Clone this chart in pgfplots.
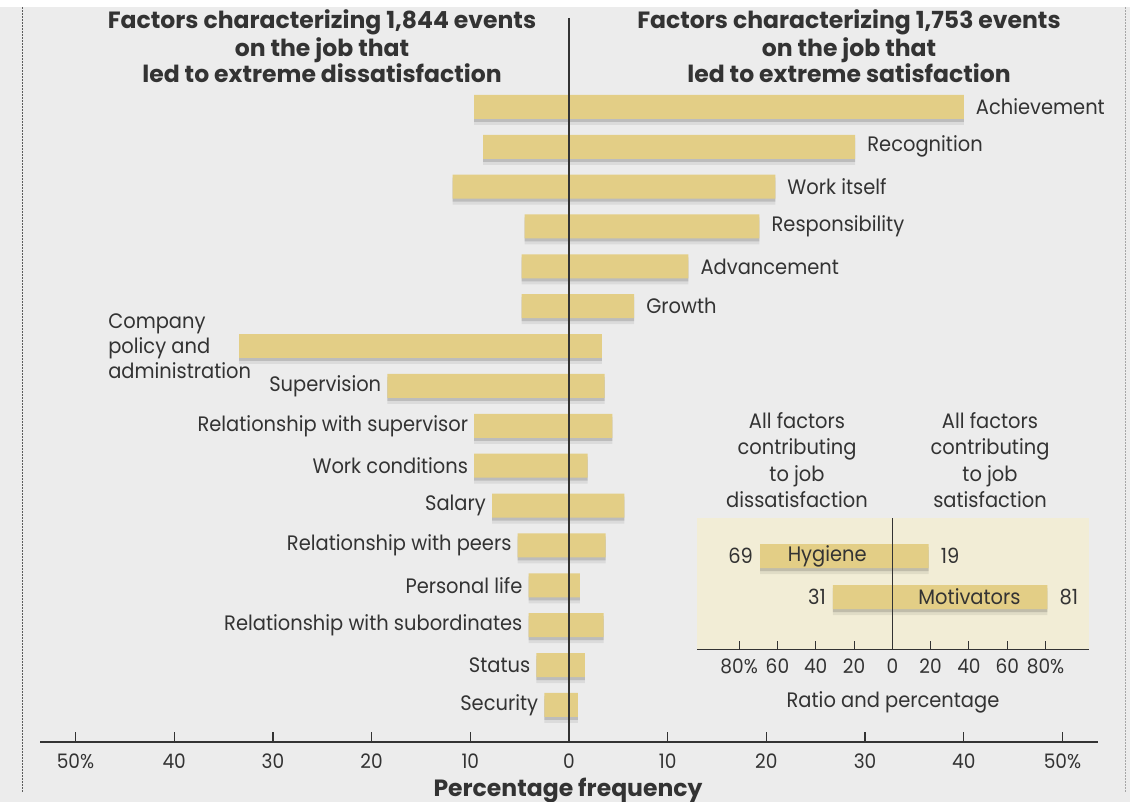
\documentclass[border=0pt]{standalone}
\usepackage{fontspec}
\setmainfont{Poppins}
\newfontfamily\labfont{Poppins}[FakeStretch=0.93]
\usepackage{pgfplots}
\pgfplotsset{compat=1.18}
\usepackage{pgfplotstable}
\definecolor{barc}{HTML}{E3CE86}
\definecolor{pagebg}{HTML}{ECECEC}
\definecolor{insetbg}{HTML}{F2EDD6}
\definecolor{txt}{HTML}{333333}
\newcommand\lab{\labfont\fontsize{21}{25}\selectfont}
\newcommand\tlab{\labfont\fontsize{20}{20}\selectfont}
\newcommand\ttl{\fontsize{23.6}{27}\selectfont\bfseries}

\pgfplotstableread[col sep=comma]{
y,left,right,name
0,-9.6,40.0,Achievement
1,-8.7,29.0,Recognition
2,-11.8,20.9,Work itself
3,-4.5,19.3,Responsibility
4,-4.8,12.1,Advancement
5,-4.8,6.6,Growth
}\motiv
\pgfplotstableread[col sep=comma]{
y,left,right,name
6,-33.4,3.3,Company
}\comp
\pgfplotstableread[col sep=comma]{
y,left,right,name
7,-18.4,3.6,Supervision
8,-9.6,4.4,Relationship with supervisor
9,-9.6,1.9,Work conditions
10,-7.8,5.6,Salary
11,-5.2,3.7,Relationship with peers
12,-4.1,1.1,Personal life
13,-4.1,3.5,Relationship with subordinates
14,-3.3,1.6,Status
15,-2.5,0.9,Security
}\hyg
\pgfplotstableread[col sep=comma]{
y,left,right,ll,rl
0,-69,19,69,19
1,-31,81,31,81
}\allf

\pgfplotsset{
  barsty/.style={fill=barc, draw=none},
  shsty/.style={fill=black, opacity=0.14, draw=none, bar shift=-3bp},
  shsty2/.style={fill=black, opacity=0.07, draw=none, bar shift=-6bp},
}

\begin{document}
\begin{tikzpicture}
\useasboundingbox (0,0) rectangle (1130bp,802bp);
\clip (0,0) rectangle (1130bp,802bp);
\fill[pagebg] (0,0) rectangle (1130bp,802bp);
\fill[white] (0,795bp) rectangle (1130bp,802bp);
\draw[txt!80, dash pattern=on 1.5bp off 1.5bp, line width=1bp] (22bp,10bp) -- (22bp,795bp);
\draw[gray!70, dash pattern=on 1.5bp off 1.5bp, line width=0.9bp] (1125bp,10bp) -- (1125bp,795bp);

\begin{axis}[
  at={(40bp,60bp)}, anchor=south west,
  width=1058bp, height=732bp, scale only axis,
  xmin=-53.6, xmax=53.6,
  ymin=-2.43, ymax=15.93, y dir=reverse,
  axis x line=bottom, axis y line=none,
  axis line style={-, txt, line width=1.2bp},
  xtick={-50,-40,...,50},
  xticklabels={50\%,40,30,20,10,0,10,20,30,40,50\%},
  /pgf/number format/assume math mode=true,
  tick align=inside, major tick length=10bp,
  tick style={txt, line width=1.2bp},
  xticklabel style={font=\tlab, text=txt, yshift=-8bp},
  ytick=\empty,
  clip=false,
  xbar, bar width=24bp, bar shift=0pt,
]
% shadows
\addplot[shsty2] table[x=left,y=y] {\motiv};
\addplot[shsty2] table[x=right,y=y] {\motiv};
\addplot[shsty2] table[x=left,y=y] {\comp};
\addplot[shsty2] table[x=right,y=y] {\comp};
\addplot[shsty2] table[x=left,y=y] {\hyg};
\addplot[shsty2] table[x=right,y=y] {\hyg};
\addplot[shsty] table[x=left,y=y] {\motiv};
\addplot[shsty] table[x=right,y=y] {\motiv};
\addplot[shsty] table[x=left,y=y] {\comp};
\addplot[shsty] table[x=right,y=y] {\comp};
\addplot[shsty] table[x=left,y=y] {\hyg};
\addplot[shsty] table[x=right,y=y] {\hyg};
% bars
\addplot[barsty] table[x=left,y=y] {\motiv};
\addplot[barsty, point meta=explicit symbolic,
  nodes near coords,
  every node near coord/.append style={anchor=west, inner sep=0pt, xshift=12bp, font=\lab, text=txt}]
  table[x=right,y=y,meta=name] {\motiv};
\addplot[barsty] table[x=right,y=y] {\comp};
\addplot[barsty] table[x=left,y=y] {\comp};
\addplot[barsty] table[x=right,y=y] {\hyg};
\addplot[barsty, point meta=explicit symbolic,
  nodes near coords,
  every node near coord/.append style={anchor=east, inner sep=0pt, xshift=-6bp, font=\lab, text=txt}]
  table[x=left,y=y,meta=name] {\hyg};
\node[anchor=west, align=left, inner sep=0pt, font=\lab, text=txt] at (axis cs:-46.7,6.0) {Company\\policy and\\administration};
\draw[txt, line width=1.4bp] (axis cs:0,-2.23) -- (axis cs:0,15.93);
\end{axis}

\begin{axis}[
  at={(697bp,152bp)}, anchor=south west,
  width=392bp, height=132bp, scale only axis,
  xmin=-102, xmax=102.7,
  ymin=-0.93, ymax=2.29, y dir=reverse,
  axis x line=bottom, axis y line=none,
  axis line style={-, txt, line width=1bp},
  axis background/.style={fill=insetbg},
  xtick={-80,-60,...,80},
  xticklabels={80\%,60,40,20,0,20,40,60,80\%},
  /pgf/number format/assume math mode=true,
  tick align=inside, major tick length=9bp,
  tick style={txt, line width=1bp},
  xticklabel style={font=\tlab, text=txt, yshift=-5bp},
  ytick=\empty,
  clip=false,
  xbar, bar width=24bp, bar shift=0pt,
]
\addplot[shsty2] table[x=left,y=y] {\allf};
\addplot[shsty2] table[x=right,y=y] {\allf};
\addplot[shsty] table[x=left,y=y] {\allf};
\addplot[shsty] table[x=right,y=y] {\allf};
\addplot[barsty, point meta=explicit symbolic,
  nodes near coords,
  every node near coord/.append style={anchor=east, inner sep=0pt, xshift=-7bp, font=\lab, text=txt}]
  table[x=left,y=y,meta=ll] {\allf};
\addplot[barsty, point meta=explicit symbolic,
  nodes near coords,
  every node near coord/.append style={anchor=west, inner sep=0pt, xshift=12bp, font=\lab, text=txt}]
  table[x=right,y=y,meta=rl] {\allf};
\node[font=\lab, text=txt] at (axis cs:-34,0) {Hygiene};
\node[font=\lab, text=txt] at (axis cs:40.3,1) {Motivators};
\draw[txt, line width=1.2bp] (axis cs:0,-0.93) -- (axis cs:0,2.29);
\end{axis}

% titles
\node[anchor=base, font=\ttl, text=txt] at (322bp,773bp) {Factors characterizing 1,844 events};
\node[anchor=base, font=\ttl, text=txt] at (322bp,745bp) {on the job that};
\node[anchor=base, font=\ttl, text=txt] at (322bp,719bp) {led to extreme dissatisfaction};
\node[anchor=base, font=\ttl, text=txt] at (849bp,773bp) {Factors characterizing 1,753 events};
\node[anchor=base, font=\ttl, text=txt] at (849bp,745bp) {on the job that};
\node[anchor=base, font=\ttl, text=txt] at (849bp,719bp) {led to extreme satisfaction};
% inset titles
\node[anchor=north, align=center, font=\labfont\fontsize{21}{26.5}\selectfont, text=txt] at (797bp,393bp) {All factors\\contributing\\to job\\dissatisfaction};
\node[anchor=north, align=center, font=\labfont\fontsize{21}{26.5}\selectfont, text=txt] at (990bp,393bp) {All factors\\contributing\\to job\\satisfaction};
\node[anchor=base, font=\lab, text=txt] at (893bp,94bp) {Ratio and percentage};
\node[anchor=base, font=\ttl, text=txt] at (568bp,6bp) {Percentage frequency};
\end{tikzpicture}
\end{document}
